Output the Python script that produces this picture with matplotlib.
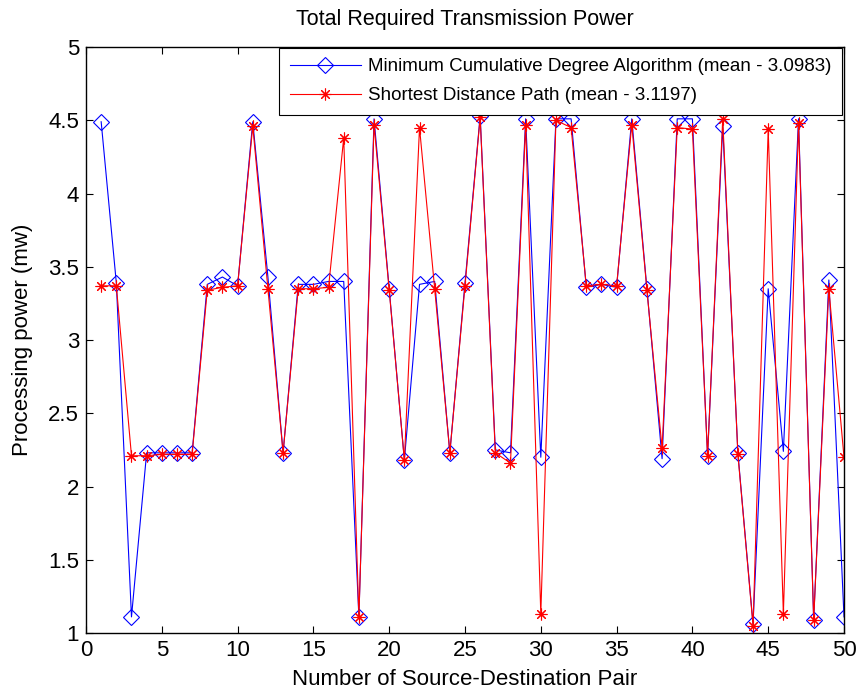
import matplotlib
matplotlib.use("Agg")
import matplotlib.pyplot as plt
import numpy as np

plt.rcParams['font.family'] = ['Liberation Sans', 'DejaVu Sans']

x = list(range(1, 51))
mcda = [4.49, 3.39, 1.11, 2.23, 2.23, 2.23, 2.23, 3.38, 3.43, 3.37,
        4.49, 3.43, 2.23, 3.38, 3.38, 3.40, 3.40, 1.11, 4.51, 3.35,
        2.18, 3.38, 3.40, 2.23, 3.39, 4.53, 2.25, 2.23, 4.51, 2.20,
        4.51, 4.51, 3.36, 3.38, 3.36, 4.51, 3.35, 2.19, 4.51, 4.51,
        2.21, 4.46, 2.23, 1.06, 3.35, 2.24, 4.51, 1.09, 3.41, 1.11]
sdp = [3.37, 3.37, 2.21, 2.21, 2.22, 2.22, 2.22, 3.34, 3.36, 3.37,
       4.46, 3.35, 2.23, 3.35, 3.35, 3.36, 4.38, 1.11, 4.47, 3.34,
       2.18, 4.45, 3.35, 2.23, 3.37, 4.52, 2.23, 2.16, 4.47, 1.13,
       4.50, 4.45, 3.37, 3.38, 3.37, 4.47, 3.34, 2.26, 4.45, 4.44,
       2.21, 4.51, 2.22, 1.05, 4.44, 1.13, 4.48, 1.09, 3.35, 2.20]

labels = ['Minimum Cumulative Degree Algorithm (mean - 3.0983)',
          'Shortest Distance Path (mean - 3.1197)']

fig = plt.figure(figsize=(8.6, 6.98), dpi=100)
ax = fig.add_axes([0.1, 0.0931, 0.8814, 0.8395])

ax.plot(x, mcda, color='blue', linewidth=0.8, marker='D', markersize=7.8,
        markerfacecolor='none', markeredgecolor='blue', markeredgewidth=0.8,
        label=labels[0])
ax.plot(x, sdp, color='red', linewidth=0.8, marker=(8, 2, 0), markersize=8.5,
        markeredgecolor='red', markeredgewidth=0.8,
        label=labels[1])

ax.set_xlim(0, 50)
ax.set_ylim(1, 5)
ax.set_xticks(np.arange(0, 51, 5))
ax.set_yticks(np.arange(1, 5.01, 0.5))
ax.set_yticklabels(['1', '1.5', '2', '2.5', '3', '3.5', '4', '4.5', '5'])
ax.tick_params(direction='in', top=True, right=True, labelsize=16, length=5, pad=5)
for s in ax.spines.values():
    s.set_linewidth(1.0)

ax.set_title('Total Required Transmission Power', fontsize=15.5, pad=16)
ax.set_xlabel('Number of Source-Destination Pair', fontsize=16, labelpad=6)
ax.set_ylabel('Processing power (mw)', fontsize=16, labelpad=11)

leg = ax.legend(loc='upper right', bbox_to_anchor=(0.9974, 0.9983),
                fontsize=13.5, fancybox=False,
                edgecolor='black', framealpha=1, borderaxespad=0,
                handlelength=3.8, borderpad=0.55, labelspacing=0.63,
                handletextpad=0.4)
leg.get_frame().set_linewidth(0.8)

fig.savefig('out.png', dpi=100)
